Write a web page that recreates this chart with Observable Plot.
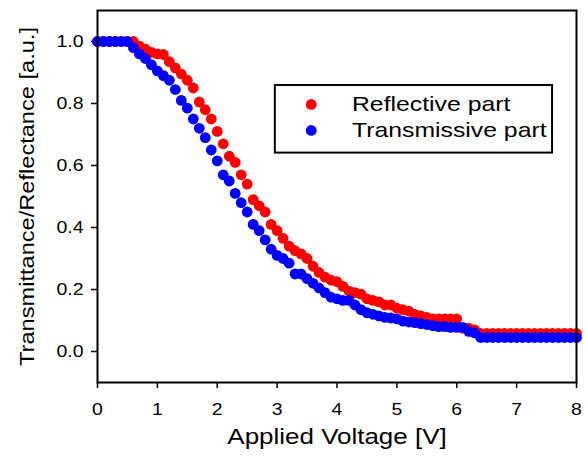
<!DOCTYPE html>
<html><head><meta charset="utf-8">
<script src="https://cdn.jsdelivr.net/npm/d3@7"></script>
<script src="https://cdn.jsdelivr.net/npm/@observablehq/plot@0.6"></script>
<style>body{margin:0;background:#fff}</style>
</head><body><div id="chart"></div>
<script>
const voltage = [0.0,0.1,0.2,0.3,0.4,0.5,0.6,0.7,0.8,0.9,1.0,1.1,1.2,1.3,1.4,1.5,1.6,1.7,1.8,1.9,2.0,2.1,2.2,2.3,2.4,2.5,2.6,2.7,2.8,2.9,3.0,3.1,3.2,3.3,3.4,3.5,3.6,3.7,3.8,3.9,4.0,4.1,4.2,4.3,4.4,4.5,4.6,4.7,4.8,4.9,5.0,5.1,5.2,5.3,5.4,5.5,5.6,5.7,5.8,5.9,6.0,6.1,6.2,6.3,6.4,6.5,6.6,6.7,6.8,6.9,7.0,7.1,7.2,7.3,7.4,7.5,7.6,7.7,7.8,7.9,8.0];
const reflective = [1.0,1.0,1.0,1.0,1.0,1.0,1.0,0.985,0.975,0.965,0.96,0.958,0.935,0.915,0.895,0.875,0.85,0.805,0.78,0.75,0.71,0.67,0.63,0.61,0.57,0.54,0.49,0.47,0.45,0.41,0.39,0.365,0.34,0.325,0.315,0.30,0.275,0.255,0.24,0.23,0.225,0.21,0.195,0.19,0.185,0.17,0.165,0.16,0.15,0.15,0.14,0.135,0.13,0.12,0.115,0.11,0.105,0.105,0.105,0.105,0.105,0.075,0.075,0.07,0.058,0.058,0.058,0.058,0.058,0.058,0.058,0.058,0.058,0.058,0.058,0.058,0.058,0.058,0.058,0.058,0.058];
const transmissive = [1.0,1.0,1.0,1.0,1.0,1.0,0.98,0.96,0.945,0.925,0.905,0.89,0.875,0.845,0.81,0.785,0.75,0.72,0.69,0.65,0.615,0.57,0.55,0.51,0.48,0.45,0.41,0.39,0.36,0.33,0.31,0.30,0.285,0.25,0.25,0.235,0.22,0.205,0.19,0.175,0.17,0.165,0.165,0.15,0.135,0.125,0.12,0.115,0.11,0.108,0.105,0.098,0.095,0.093,0.09,0.087,0.083,0.08,0.08,0.078,0.078,0.078,0.065,0.06,0.045,0.045,0.045,0.045,0.045,0.045,0.045,0.045,0.045,0.045,0.045,0.045,0.045,0.045,0.045,0.045,0.045];
const xTicks = [0,1,2,3,4,5,6,7,8];
const yTicks = [0.0,0.2,0.4,0.6,0.8,1.0];
const seriesNames = ["Reflective part","Transmissive part"];
const seriesColors = ["#ff0000","#0000ff"];
const xTitle = "Applied Voltage [V]";
const yTitle = "Transmittance/Reflectance [a.u.]";

const redRows = voltage.map((v,i)=>({v, t: reflective[i]}));
const blueRows = voltage.map((v,i)=>({v, t: transmissive[i]}));

// legend placement (in data units)
const legX1 = 2.97, legX2 = 7.6, legY1 = 0.64, legY2 = 0.858;
const legDotX = 3.57, legTextX = 4.25, legRowY = [0.797, 0.713];

const chart = Plot.plot({
  width: 585, height: 457,
  marginLeft: 97, marginRight: 9, marginTop: 10, marginBottom: 75,
  style: {fontFamily: "'Liberation Sans', Arial, sans-serif", background: "#fff", color: "#000"},
  x: {domain: [0, 8]},
  y: {domain: [-0.1, 1.1]},
  marks: [
    Plot.axisX({ticks: xTicks, tickSize: 6, tickPadding: 15, fontSize: 16.5, label: null, strokeWidth: 1.5, tickFormat: d3.format("d")}),
    Plot.axisY({ticks: yTicks, tickSize: 6, tickPadding: 8, fontSize: 16.5, label: null, strokeWidth: 1.5, tickFormat: d3.format(".1f")}),
    Plot.dot(redRows, {x: "v", y: "t", r: 5.4, fill: seriesColors[0], stroke: "none"}),
    Plot.dot(blueRows, {x: "v", y: "t", r: 5.4, fill: seriesColors[1], stroke: "none"}),
    Plot.frame({stroke: "#000", strokeWidth: 2}),
    Plot.rect([0], {x1: legX1, x2: legX2, y1: legY1, y2: legY2, fill: "#fff", stroke: "#000", strokeWidth: 2}),
    Plot.dot([0], {x: legDotX, y: legRowY[0], r: 5.4, fill: seriesColors[0], stroke: "none"}),
    Plot.dot([0], {x: legDotX, y: legRowY[1], r: 5.4, fill: seriesColors[1], stroke: "none"}),
    Plot.text(seriesNames, {x: legTextX, y: (d, i) => legRowY[i], text: d => d, textAnchor: "start", fontSize: 21, fill: "#000"}),
    Plot.text([xTitle], {frameAnchor: "bottom", dy: 61, text: d => d, fontSize: 22, fill: "#000", textAnchor: "middle"}),
    Plot.text([yTitle], {frameAnchor: "left", dx: -70, rotate: -90, text: d => d, fontSize: 20, fill: "#000", textAnchor: "middle"})
  ]
});
document.getElementById("chart").appendChild(chart);
// the reference's text is drawn horizontally widened
chart.querySelectorAll("text").forEach(t => {
  const L = t.getComputedTextLength();
  if (L > 0) {
    t.setAttribute("textLength", (L * 1.18).toFixed(1));
    t.setAttribute("lengthAdjust", "spacingAndGlyphs");
  }
});
</script>
</body></html>
